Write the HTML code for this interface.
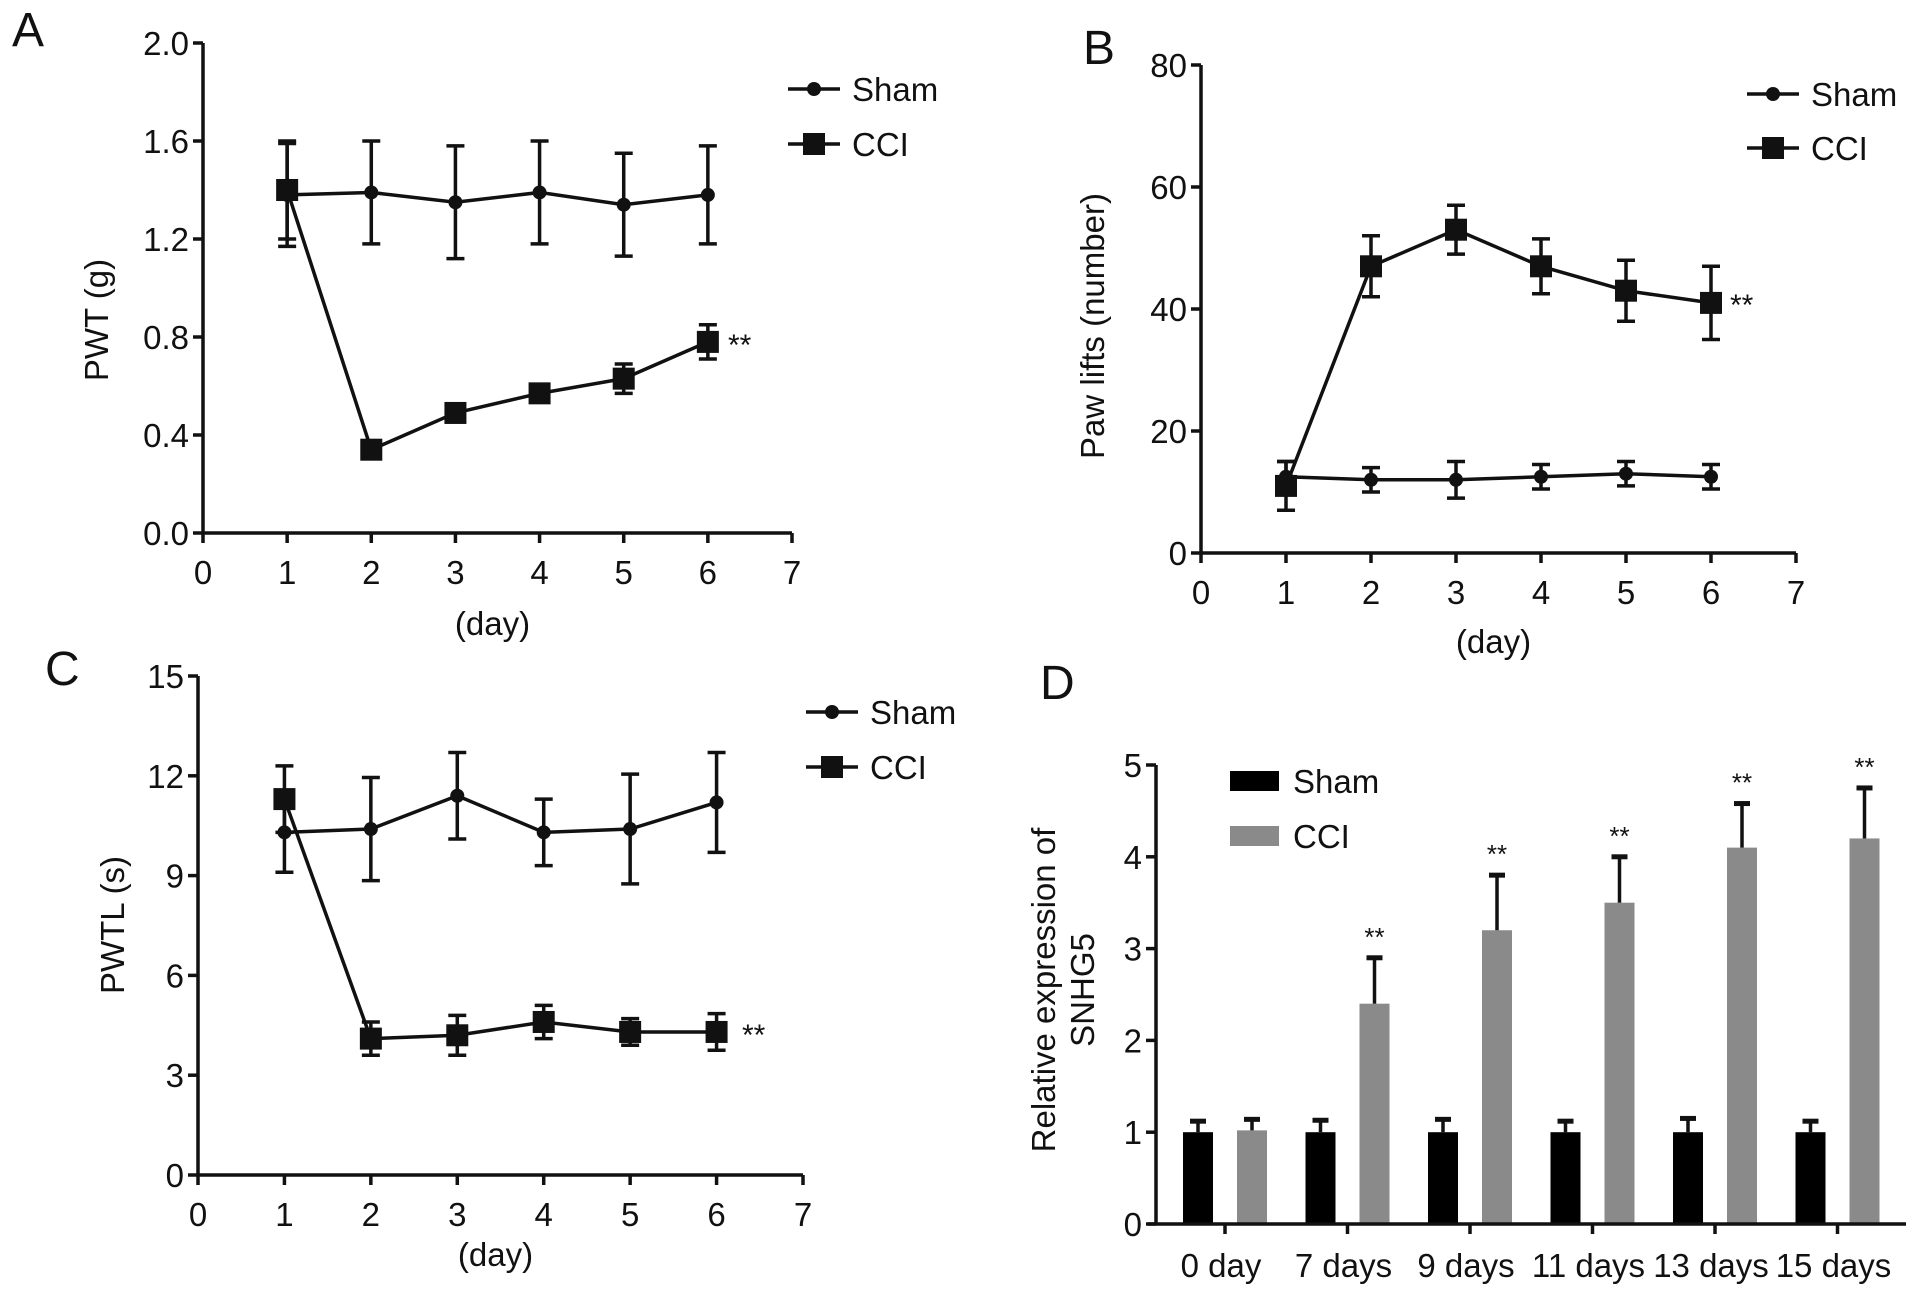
<!DOCTYPE html>
<html><head><meta charset="utf-8"><style>
body{margin:0;background:#fff}
svg{display:block}
text{font-family:"Liberation Sans Narrow","Liberation Sans",sans-serif;fill:#111}
</style></head><body>
<svg id="fig" width="1913" height="1292" xmlns="http://www.w3.org/2000/svg"></svg>
<script>
const days=[1,2,3,4,5,6];
const aSham=[1.38,1.39,1.35,1.39,1.34,1.38], aShamErr=[0.21,0.21,0.23,0.21,0.21,0.20];
const aCCI=[1.40,0.34,0.49,0.57,0.63,0.78], aCCIErr=[0.20,0.02,0.02,0.02,0.06,0.07];
const aTicks=[0,0.4,0.8,1.2,1.6,2.0], aTickLabels=["0.0","0.4","0.8","1.2","1.6","2.0"];
const bSham=[12.5,12,12,12.5,13,12.5], bShamErr=[2.5,2,3,2,2,2];
const bCCI=[11,47,53,47,43,41], bCCIErr=[4,5,4,4.5,5,6];
const bTicks=[0,20,40,60,80];
const cSham=[10.3,10.4,11.4,10.3,10.4,11.2], cShamErr=[1.2,1.55,1.3,1.0,1.65,1.5];
const cCCI=[11.3,4.1,4.2,4.6,4.3,4.3], cCCIErr=[1.0,0.5,0.6,0.5,0.4,0.55];
const cTicks=[0,3,6,9,12,15];
const xTicks=[0,1,2,3,4,5,6,7];
const dCats=["0 day","7 days","9 days","11 days","13 days","15 days"];
const dSham=[1,1,1,1,1,1], dShamErr=[0.12,0.13,0.14,0.12,0.15,0.12];
const dCCI=[1.02,2.4,3.2,3.5,4.1,4.2], dCCIErr=[0.12,0.5,0.6,0.5,0.48,0.55];
const dTicks=[0,1,2,3,4,5];

const S=document.getElementById('fig');const NS="http://www.w3.org/2000/svg";
function el(t,a,p){const e=document.createElementNS(NS,t);for(const k in a)e.setAttribute(k,a[k]);(p||S).appendChild(e);return e;}
function txt(s,x,y,size,anchor,p,rot){const e=el('text',{x:x,y:y,'font-size':size,'text-anchor':anchor||'middle'},p);if(rot)e.setAttribute('transform','rotate(-90 '+x+' '+y+')');e.textContent=s;return e;}
const LW=3.5;

function linePanel(cfg){
 const g=el('g',{});
 
 
 const X=v=>cfg.x0+(v-0)*(cfg.x7-cfg.x0)/7;
 const Y=v=>cfg.y0-(v/cfg.ymax)*(cfg.y0-cfg.ytop);
 const ax=el('g',{},g);
 
 el('line',{x1:cfg.x0,y1:cfg.y0,x2:cfg.x0,y2:cfg.ytop,stroke:'#111','stroke-width':LW},ax);
 cfg.yt.forEach((v,i)=>{el('line',{x1:cfg.x0-10,y1:Y(v),x2:cfg.x0,y2:Y(v),stroke:'#111','stroke-width':LW},ax);
  const t=txt(cfg.ytl?cfg.ytl[i]:String(v),cfg.x0-14,Y(v)+12,33,'end',ax);});
 const xa=el('g',{},g);
 
 el('line',{x1:cfg.x0,y1:cfg.y0,x2:cfg.x7,y2:cfg.y0,stroke:'#111','stroke-width':LW},xa);
 xTicks.forEach(v=>{el('line',{x1:X(v),y1:cfg.y0,x2:X(v),y2:cfg.y0+10,stroke:'#111','stroke-width':LW},xa);
  const t=txt(String(v),X(v),cfg.y0+51,33,'middle',xa);});
 const xl=txt('(day)',(cfg.x0+cfg.x7)/2-5,cfg.y0+cfg.dy,33,'middle',g);
 
 const yl=txt(cfg.ylabel,cfg.ylx,cfg.yly,33,'middle',g,true);
 
 function series(vals,errs,sq,nm){
  const sg=el('g',{},g);
  
  el('polyline',{points:days.map((d,i)=>X(d)+','+Y(vals[i])).join(' '),fill:'none',stroke:'#111','stroke-width':LW},sg);
  days.forEach((d,i)=>{const x=X(d),yh=Y(vals[i]+errs[i]),yl2=Y(vals[i]-errs[i]);
   el('line',{x1:x,y1:yh,x2:x,y2:yl2,stroke:'#111','stroke-width':LW},sg);
   el('line',{x1:x-9,y1:yh,x2:x+9,y2:yh,stroke:'#111','stroke-width':LW},sg);
   el('line',{x1:x-9,y1:yl2,x2:x+9,y2:yl2,stroke:'#111','stroke-width':LW},sg);
   if(sq)el('rect',{x:x-11,y:Y(vals[i])-11,width:22,height:22,fill:'#111'},sg);
   else el('circle',{cx:x,cy:Y(vals[i]),r:7,fill:'#111'},sg);});
 }
 series(cfg.sham,cfg.shamE,false,'series-sham');
 series(cfg.cci,cfg.cciE,true,'series-cci');
 const lg=el('g',{},g);
 
 [[false,'Sham',cfg.ly1],[true,'CCI',cfg.ly2]].forEach(([sq,n,y])=>{
  const e=el('g',{},lg);
  
  el('line',{x1:cfg.lx,y1:y,x2:cfg.lx+52,y2:y,stroke:'#111','stroke-width':LW},e);
  if(sq)el('rect',{x:cfg.lx+15,y:y-11,width:22,height:22,fill:'#111'},e);else el('circle',{cx:cfg.lx+26,cy:y,r:7,fill:'#111'},e);
  txt(n,cfg.lx+64,y+12,33,'start',e);});
 const st=txt('**',cfg.sx,cfg.sy,30,'start',g);
 
 const pl=txt(cfg.letter,cfg.px,cfg.py,48,'start',g);
 
}
linePanel({name:'panel-a',x0:203,x7:792,y0:533,ytop:43,ymax:2.0,yt:aTicks,ytl:aTickLabels,sham:aSham,shamE:aShamErr,cci:aCCI,cciE:aCCIErr,dy:102,
 ylabel:'PWT (g)',ylx:108,yly:320,lx:788,ly1:89,ly2:144,sx:728,sy:355,letter:'A',px:12,py:46});
linePanel({name:'panel-b',x0:1201,x7:1796,y0:553,ytop:65,ymax:80,yt:bTicks,sham:bSham,shamE:bShamErr,cci:bCCI,cciE:bCCIErr,dy:100,
 ylabel:'Paw lifts (number)',ylx:1104,yly:326,lx:1747,ly1:94,ly2:148,sx:1730,sy:315,letter:'B',px:1083,py:64});
linePanel({name:'panel-c',x0:198,x7:803,y0:1175,ytop:676,ymax:15,yt:cTicks,sham:cSham,shamE:cShamErr,cci:cCCI,cciE:cCCIErr,dy:91,
 ylabel:'PWTL (s)',ylx:124,yly:925,lx:806,ly1:712,ly2:767,sx:742,sy:1045,letter:'C',px:45,py:685});

// Panel D
(function(){
 const g=el('g',{});
 
 
 const x0=1156,y0=1224,y5=765,xEnd=1906,c0=1225,step=122.5,bw=30,off=27;
 const Y=v=>y0-v/5*(y0-y5);
 const C=i=>c0+i*step;
 function bars(vals,errs,dx,col,nm){
  const sg=el('g',{},g);
  
  vals.forEach((v,i)=>{const x=C(i)+dx;
   const b=el('rect',{x:x-bw/2,y:Y(v),width:bw,height:y0-Y(v),fill:col},sg);
   
   
   const yh=Y(v+errs[i]);
   el('line',{x1:x,y1:Y(v),x2:x,y2:yh,stroke:'#111','stroke-width':LW},sg);
   el('line',{x1:x-8,y1:yh,x2:x+8,y2:yh,stroke:'#111','stroke-width':5},sg);});
 }
 bars(dSham,dShamErr,-off,'#000','series-sham-bars');
 bars(dCCI,dCCIErr,off,'#8a8a8a','series-cci-bars');
 dCCI.forEach((v,i)=>{if(i>0){const t=txt('**',C(i)+off,Y(v+dCCIErr[i])-12,26,'middle',g);}});
 const ax=el('g',{},g);
 
 el('line',{x1:x0,y1:y0,x2:x0,y2:y5,stroke:'#111','stroke-width':LW},ax);
 dTicks.forEach(v=>{el('line',{x1:x0-10,y1:Y(v),x2:x0,y2:Y(v),stroke:'#111','stroke-width':LW},ax);
  const t=txt(String(v),x0-14,Y(v)+12,33,'end',ax);});
 const xa=el('g',{},g);
 
 el('line',{x1:x0-8,y1:y0,x2:xEnd,y2:y0,stroke:'#111','stroke-width':LW},xa);
 dCats.forEach((c,i)=>{el('line',{x1:C(i),y1:y0,x2:C(i),y2:y0+10,stroke:'#111','stroke-width':LW},xa);
  const t=txt(c,C(i)-4,y0+53,33,'middle',xa);});
 const y1=txt('Relative expression of',1055,990,33,'middle',g,true);
 
 const y2=txt('SNHG5',1094,990,33,'middle',g,true);
 
 const lg=el('g',{},g);
 
 [['#000','Sham',781],['#8a8a8a','CCI',836]].forEach(([c,n,y])=>{
  const e=el('g',{},lg);
  
  el('rect',{x:1230,y:y-10,width:49,height:20,fill:c},e);
  txt(n,1293,y+12,33,'start',e);});
 const pl=txt('D',1040,699,48,'start',g);
 
})();
</script>
</body></html>
